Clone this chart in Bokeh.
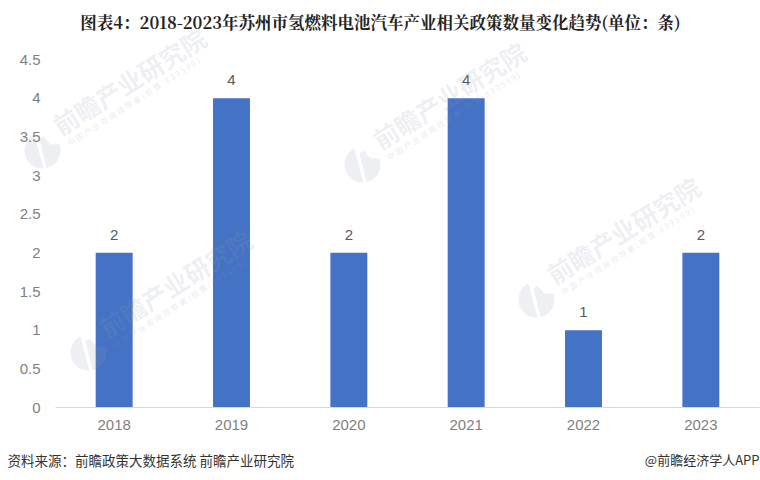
import numpy as np
from bokeh.plotting import figure
from bokeh.models import ColumnDataSource, FixedTicker, Range1d, Label, PolyAnnotation
from bokeh.core.properties import value
from bokeh.embed import file_html
from bokeh.resources import INLINE

# données
annees = [2018, 2019, 2020, 2021, 2022, 2023]
nombre = [2, 4, 2, 4, 1, 2]
ticks = [0, 0.5, 1, 1.5, 2, 2.5, 3, 3.5, 4, 4.5]
tick_labels = {0: "0", 0.5: "0.5", 1: "1", 1.5: "1.5", 2: "2", 2.5: "2.5", 3: "3", 3.5: "3.5", 4: "4", 4.5: "4.5"}

titre = "图表4\uff1a2018-2023年苏州市氢燃料电池汽车产业相关政策数量变化趋势(单位\uff1a条)"
source_txt = "资料来源\uff1a前瞻政策大数据系统 前瞻产业研究院"
credit = "@前瞻经济学人APP"
filigrane = "前瞻产业研究院"
filigrane2 = "中 国 产 业 咨 询 领 导 者 ( 股 票 : 8 3 9 5 9 9 )"
logos_x = [42, 362, 88, 536]
logos_y = [150, 164, 352, 299]

# le cadre couvre toute la page, les axes sont placés dedans (fixed_location)
W, H = 760, 480
GAUCHE, DROITE, HAUT, BAS = 55, 759, 59, 407
px_x = (DROITE - GAUCHE) / 6
px_y = (BAS - HAUT) / 4.5
x_debut = annees[0] - 0.5 - GAUCHE / px_x
x_fin = annees[-1] + 0.5 + (W - DROITE) / px_x
y_debut = -(H - BAS) / px_y
y_fin = 4.5 + HAUT / px_y

source = ColumnDataSource(dict(x=annees, y=nombre, label=[str(v) for v in nombre]))

p = figure(x_range=Range1d(x_debut, x_fin), y_range=Range1d(y_debut, y_fin), width=W, height=H,
           output_backend="svg", toolbar_location=None, min_border=0)

p.background_fill_color = "white"
p.border_fill_color = "white"
p.outline_line_color = None
p.grid.grid_line_color = None

p.vbar(x="x", top="y", width=0.315, source=source, fill_color="#4472C4", line_color=None)
p.text(x="x", y="y", text="label", source=source, y_offset=-13,
       text_align="center", text_baseline="bottom", text_font=value("Liberation Sans"),
       text_font_size="15px", text_color="#595959")

p.yaxis.fixed_location = annees[0] - 0.5
p.yaxis.bounds = (0, 4.5)
p.yaxis.ticker = FixedTicker(ticks=ticks)
p.yaxis.major_label_overrides = tick_labels
p.yaxis.axis_line_color = None
p.yaxis.major_tick_line_color = None
p.yaxis.minor_tick_line_color = None
p.yaxis.major_label_text_font = "Liberation Sans"
p.yaxis.major_label_text_font_size = "15px"
p.yaxis.major_label_text_color = "#7f7f7f"
p.yaxis.major_label_standoff = 9

p.xaxis.fixed_location = 0
p.xaxis.bounds = (annees[0] - 0.5, annees[-1] + 0.5)
p.xaxis.ticker = FixedTicker(ticks=annees)
p.xaxis.axis_line_color = "#d9d9d9"
p.xaxis.major_tick_line_color = None
p.xaxis.minor_tick_line_color = None
p.xaxis.major_label_text_font = "Liberation Sans"
p.xaxis.major_label_text_font_size = "15px"
p.xaxis.major_label_text_color = "#7f7f7f"
p.xaxis.major_label_standoff = 6


def sy(y):
    return H - y


def poly(xs, ys):
    p.add_layout(PolyAnnotation(xs=list(xs), ys=[sy(v) for v in ys],
                                xs_units="screen", ys_units="screen", level="overlay",
                                fill_color="#8f9bb5", fill_alpha=0.16, line_color=None))


def texte(x, y, txt, **kw):
    p.add_layout(Label(x=x, y=sy(y), x_units="screen", y_units="screen", text=txt, level="overlay", **kw))


# filigrane : logo en deux morceaux + deux lignes de texte
arc_g = np.radians(np.linspace(87, 243, 24))
arc_d = np.radians(np.linspace(-20, 77, 16))
for lx, ly in zip(logos_x, logos_y):
    poly(lx + 18 * np.cos(arc_g), ly + 18 * np.sin(arc_g))
    poly(np.r_[lx + 18 * np.cos(arc_d), lx - 3, lx + 1, lx + 8],
         np.r_[ly + 18 * np.sin(arc_d), ly - 11, ly - 14, ly - 6])
    texte(lx + 22, ly - 8, filigrane, angle=0.56, text_font="Noto Sans CJK SC", text_font_style="bold",
          text_font_size="25px", text_color="#8f9bb5", text_alpha=0.16)
    texte(lx + 28, ly - 2, filigrane2, angle=0.57, text_font="Noto Sans CJK SC",
          text_font_size="8px", text_color="#8f9bb5", text_alpha=0.22)

# titre et pied de page
texte(380, 21, titre, text_align="center", text_baseline="middle", text_font="Noto Serif CJK SC",
      text_font_style="bold", text_font_size="16.5px", text_color="#222222")
texte(7, 459, source_txt, text_baseline="middle", text_font="Noto Sans CJK SC", text_font_size="13.5px",
      text_color="#333333")
texte(759, 459, credit, text_align="right", text_baseline="middle", text_font="Noto Sans CJK SC",
      text_font_size="13px", text_color="#333333")

open("out.html", "w").write(file_html(p, INLINE))
